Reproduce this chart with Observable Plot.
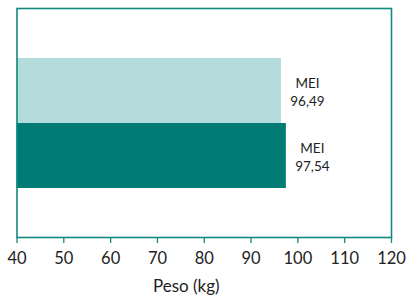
<!DOCTYPE html>
<html>
<head>
<meta charset="utf-8">
<script src="https://cdn.jsdelivr.net/npm/d3@7"></script>
<script src="https://cdn.jsdelivr.net/npm/@observablehq/plot@0.6"></script>
<style>
  html, body { margin: 0; padding: 0; background: #fff; }
  #chart { width: 409px; height: 302px; }
</style>
</head>
<body>
<div id="chart"></div>
<script>
const categories = ["Grupo 1", "Grupo 2"];
const seriesNames = ["MEI", "MEI"];
const values = [96.49, 97.54];
const xTicks = [40, 50, 60, 70, 80, 90, 100, 110, 120];
const xLabel = "Peso (kg)";
const barColors = ["#b4dcdc", "#007c74"];
const borderColor = "#138a7f";

const data = categories.map((c, i) => ({
  cat: c,
  name: seriesNames[i],
  value: values[i],
  label: seriesNames[i] + "\n" + values[i].toFixed(2).replace(".", ",")
}));

const chart = Plot.plot({
  width: 409,
  height: 302,
  marginLeft: 16.5,
  marginRight: 18,
  marginTop: 8,
  marginBottom: 65,
  style: { fontFamily: "Lato, 'Open Sans', sans-serif", background: "#fff" },
  x: { domain: [40, 120], ticks: xTicks },
  y: { type: "band", domain: categories, paddingInner: 0, paddingOuter: 0.74, axis: null },
  color: { domain: categories, range: barColors },
  marks: [
    Plot.barX(data, { y: "cat", x1: 40, x2: "value", fill: "cat" }),
    Plot.text(data, {
      y: "cat", x: "value", text: "label", dx: 26,
      textAnchor: "middle", lineHeight: 1.36, fontSize: 13.5, fill: "#222"
    }),
    Plot.frame({ stroke: borderColor, strokeWidth: 1.6 }),
    Plot.axisX({
      ticks: xTicks, tickSize: 6, tickPadding: 9, stroke: borderColor,
      strokeWidth: 1.3, fontSize: 16.5, color: "#222", label: null,
      tickFormat: d => String(d)
    }),
    Plot.text([xLabel], {
      frameAnchor: "bottom", dy: 54, dx: -18, fontSize: 17, fill: "#222"
    })
  ]
});
document.getElementById("chart").appendChild(chart);
</script>
</body>
</html>
